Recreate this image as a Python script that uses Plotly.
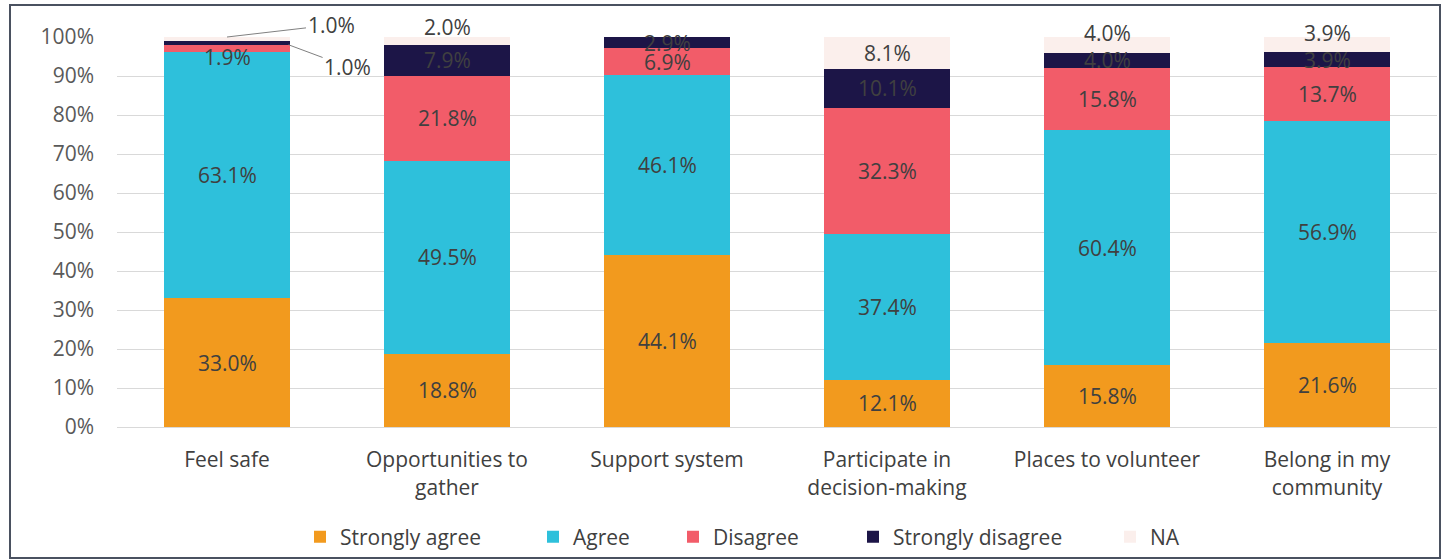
import plotly.graph_objects as go

categories = ["Feel safe", "Opportunities to<br>gather", "Support system",
              "Participate in<br>decision-making", "Places to volunteer",
              "Belong in my<br>community"]
series_names = ["Strongly agree", "Agree", "Disagree", "Strongly disagree", "NA"]
strongly_agree = [33.0, 18.8, 44.1, 12.1, 15.8, 21.6]
agree = [63.1, 49.5, 46.1, 37.4, 60.4, 56.9]
disagree = [1.9, 21.8, 6.9, 32.3, 15.8, 13.7]
strongly_disagree = [1.0, 7.9, 2.9, 10.1, 4.0, 3.9]
na = [1.0, 2.0, 0.0, 8.1, 4.0, 3.9]
y_ticks = [0, 10, 20, 30, 40, 50, 60, 70, 80, 90, 100]

series = [strongly_agree, agree, disagree, strongly_disagree, na]
colors = ["#F29A1E", "#2EC0DB", "#F25C69", "#1C1547", "#FBEFEC"]

FONT = "Open Sans"
TXT = "#404040"
FS = 21

W, H = 1449, 560
L, R, T, B = 117, 12, 37, 133
pw, ph = W - L - R, H - T - B

def px_to_paper_x(px):
    return (px - L) / pw

def px_to_paper_y(py):
    return (H - B - py) / ph

fig = go.Figure()
legend_px = [300, 533, 673, 853, 1110]
for i, (name, vals, col) in enumerate(zip(series_names, series, colors)):
    lg = "legend" if i == 0 else f"legend{i+1}"
    fig.add_trace(go.Bar(
        x=categories, y=vals, name=name, marker=dict(color=col, line=dict(width=0)),
        legend=lg, hoverinfo="skip", showlegend=True,
    ))

# data labels (style offsets only)
label_yshift = {(4, 1): 14, (4, 4): 12, (4, 5): 12, (2, 0): -8}
special = {(3, 0), (4, 0)}
annotations = []
for ci, cat in enumerate(categories):
    base = 0.0
    for si, vals in enumerate(series):
        v = vals[ci]
        mid = base + v / 2
        base += v
        if v <= 0 or (si, ci) in special:
            continue
        annotations.append(dict(
            x=ci, y=mid, xref="x", yref="y", text=f"{v:.1f}%", showarrow=False,
            font=dict(family=FONT, size=FS, color=TXT), yshift=label_yshift.get((si, ci), 0),
        ))

# Feel safe callouts for tiny segments
fs_top = sum(s[0] for s in series)
fs_d_top = strongly_agree[0] + agree[0] + disagree[0]
annotations.append(dict(
    x=0, y=fs_top, xref="x", yref="y", text=f"{na[0]:.1f}%", showarrow=True,
    arrowhead=0, arrowwidth=1, arrowcolor="#808080", ax=104, ay=-12,
    font=dict(family=FONT, size=FS, color=TXT),
))
annotations.append(dict(
    x=0.28, y=fs_d_top, xref="x", yref="y", text=f"{strongly_disagree[0]:.1f}%",
    showarrow=True, arrowhead=0, arrowwidth=1, arrowcolor="#808080", ax=59, ay=22,
    font=dict(family=FONT, size=FS, color=TXT),
))

layout_legends = {}
for i, lpx in enumerate(legend_px):
    key = "legend" if i == 0 else f"legend{i+1}"
    layout_legends[key] = dict(
        x=px_to_paper_x(lpx), y=px_to_paper_y(537), xanchor="left", yanchor="middle",
        orientation="h", bgcolor="rgba(0,0,0,0)",
        font=dict(family=FONT, size=FS, color=TXT),
    )

fig.update_layout(
    width=W, height=H,
    margin=dict(l=L, r=R, t=T, b=B, autoexpand=False),
    barmode="stack", bargap=0.43,
    showlegend=True,
    plot_bgcolor="white", paper_bgcolor="white",
    font=dict(family=FONT, size=FS, color=TXT),
    annotations=annotations,
    shapes=[dict(type="rect", xref="paper", yref="paper",
                 x0=px_to_paper_x(10), x1=px_to_paper_x(1440),
                 y0=px_to_paper_y(558), y1=px_to_paper_y(5),
                 line=dict(color="#4A5160", width=2), fillcolor="rgba(0,0,0,0)", layer="below")],
    **layout_legends,
)
fig.update_yaxes(range=[0, 100], tickvals=y_ticks, ticktext=[f"{t}%" for t in y_ticks],
                 showgrid=True, gridcolor="#D9D9D9", gridwidth=1, zeroline=False,
                 ticks="", ticklabelstandoff=22, tickfont=dict(family=FONT, size=FS, color="#595959"),
                 showline=False, automargin=False)
fig.update_xaxes(showline=True, linecolor="#D9D9D9", linewidth=1, ticks="",
                 tickfont=dict(family=FONT, size=FS, color="#404040"), ticklabelstandoff=14,
                 automargin=False)

fig.write_html("out.html", config={"displayModeBar": False},
               post_script="document.body.style.margin='0';document.body.style.overflow='hidden';")
